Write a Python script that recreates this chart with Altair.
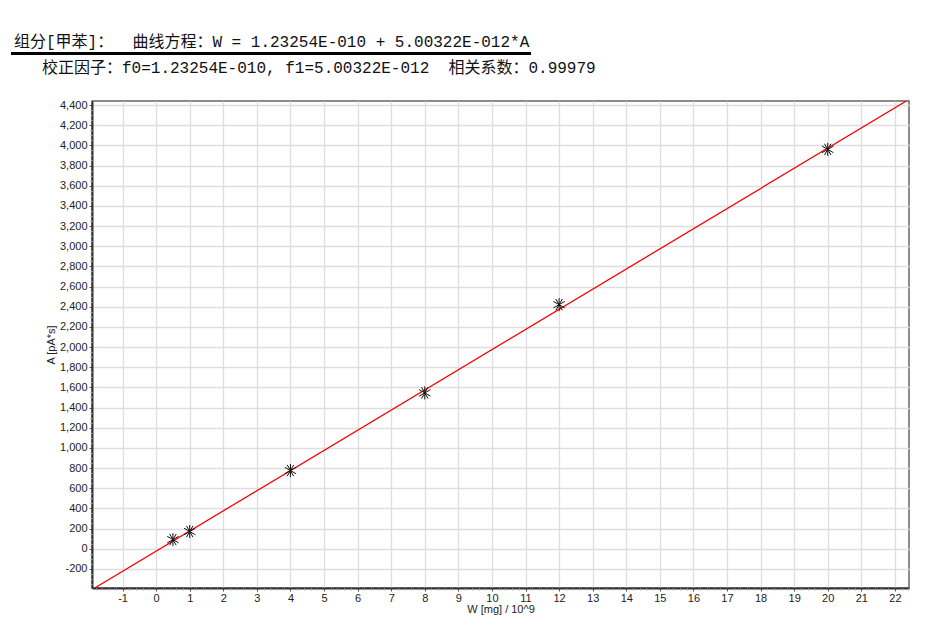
import altair as alt
import pandas as pd

# ---- data ----
w_points = [0.5, 1, 4, 8, 12, 20]
a_points = [90, 170, 775, 1545, 2420, 3960]
w_line = [-1.83, 22.34]
a_line = [-390, 4440]
x_ticks = list(range(-1, 23))
y_ticks = list(range(-200, 4401, 200))
x_minor = [round(i * 0.2, 1) for i in range(-9, 113) if i % 5 != 0]
y_minor = [v for v in range(-350, 4440, 50) if v % 200 != 0]
NB = "\u00a0"
title_line1 = "组分[甲苯]：" + NB * 2 + "曲线方程：W = 1.23254E-010 + 5.00322E-012*A"
title_line2 = "校正因子：f0=1.23254E-010, f1=5.00322E-012" + NB * 2 + "相关系数：0.99979"
x_title = "W [mg] / 10^9"
y_title = "A [pA*s]"

df_pts = pd.DataFrame({"W": w_points, "A": a_points})
df_line = pd.DataFrame({"W": w_line, "A": a_line})
df_t1 = pd.DataFrame({"t": [title_line1]})
df_t2 = pd.DataFrame({"t": [title_line2]})

SANS = "Liberation Sans, Arial, sans-serif"
TFONT = "Liberation Mono, Noto Sans CJK SC, monospace"

xs = alt.Scale(domain=[-1.91, 22.42], nice=False, zero=False)
ys = alt.Scale(domain=[-390, 4440], nice=False, zero=False)

x_axis = alt.Axis(
    orient="bottom",
    values=x_ticks, grid=True, gridColor="#dedede", gridWidth=1.3,
    tickSize=3, tickColor="#555", labelPadding=1,
    labelFont=SANS, labelFontSize=11, labelColor="#222",
    labelExpr="replace(format(datum.value, ','), '\u2212', '-')",
    domainColor="#333", domainWidth=2,
    title=x_title, titleFont=SANS, titleFontSize=11, titleFontWeight="normal",
    titleColor="#222", titlePadding=0,
)
y_axis = alt.Axis(
    orient="left",
    values=y_ticks, grid=True, gridColor="#dedede", gridWidth=1.3,
    tickSize=3, tickColor="#555", labelPadding=2,
    labelFont=SANS, labelFontSize=11, labelColor="#222",
    labelExpr="replace(format(datum.value, ','), '\u2212', '-')",
    domainColor="#333", domainWidth=2,
    title=y_title, titleFont=SANS, titleFontSize=11, titleFontWeight="normal",
    titleColor="#222", titlePadding=3,
)

x_enc = alt.X("W:Q", scale=xs, axis=x_axis)
y_enc = alt.Y("A:Q", scale=ys, axis=y_axis)

line = alt.Chart(df_line).mark_line(color="#ff0000", strokeWidth=1.3, clip=True).encode(
    x=x_enc, y=y_enc
)

star = "M0,-1L0,1M-0.87,-0.5L0.87,0.5M-0.87,0.5L0.87,-0.5M-0.5,-0.87L0.5,0.87M-0.5,0.87L0.5,-0.87"
points = alt.Chart(df_pts).mark_point(
    shape=star, size=170, filled=False, color="#111", strokeWidth=1.0, opacity=1
).encode(x=x_enc, y=y_enc)

main = alt.layer(line, points)

minor = alt.Chart(df_pts).mark_point(opacity=0).encode(
    x=alt.X("W:Q", scale=xs, axis=alt.Axis(
        orient="bottom", values=x_minor, labels=False, grid=False, domain=False,
        tickSize=2, tickColor="#aaa", title=None)),
    y=alt.Y("A:Q", scale=ys, axis=alt.Axis(
        orient="left", values=y_minor, labels=False, grid=False, domain=False,
        tickSize=2, tickColor="#aaa", title=None)),
)

t1 = alt.Chart(df_t1).mark_text(
    align="left", baseline="alphabetic", font=TFONT, fontSize=16, color="#111"
).encode(x=alt.value(-78), y=alt.value(-54), text="t:N")
t2 = alt.Chart(df_t2).mark_text(
    align="left", baseline="alphabetic", font=TFONT, fontSize=16, color="#111"
).encode(x=alt.value(-50), y=alt.value(-28), text="t:N")
underline = alt.Chart(df_t1).mark_rule(color="#000", strokeWidth=3).encode(
    x=alt.value(-81), x2=alt.value(439), y=alt.value(-47.5)
)

chart = (
    alt.layer(main, minor, t1, t2, underline)
    .resolve_axis(x="independent", y="independent")
    .properties(
        width=817, height=487,
        autosize=alt.AutoSizeParams(type="none"),
        padding={"left": 84, "top": 93, "right": 10, "bottom": 40},
        background="white",
    )
    .configure_view(stroke="#666", strokeWidth=1.5)
)

chart.save("out.html", embed_options={"renderer": "svg", "actions": False})
